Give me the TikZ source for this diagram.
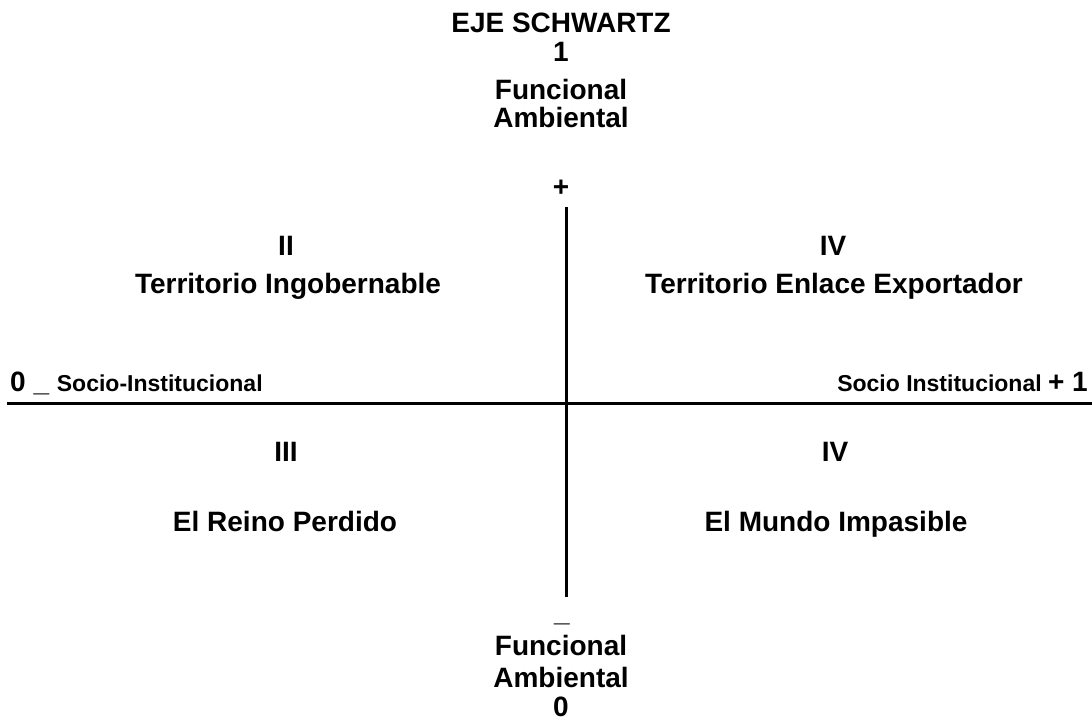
\documentclass[tikz,border=0pt]{standalone}
\usepackage{fontspec}
\setmainfont{Liberation Sans}
\newcommand{\bigfont}{\bfseries\fontsize{28}{32}\selectfont}
\newcommand{\smallfont}{\bfseries\fontsize{23}{27}\selectfont}
\begin{document}
\begin{tikzpicture}[x=1pt,y=-1pt,
  big/.style={font=\bigfont, inner sep=0pt, anchor=base},
  axis/.style={line width=3pt}]
\useasboundingbox (0,0) rectangle (1092,721);
% top block
\node[big] (title) at (561,32) {EJE SCHWARTZ};
\node[big] (one) at (561,61) {1};
\node[big] (f1) at (561,99) {Funcional};
\node[big] (a1) at (561,127) {Ambiental};
\node[big] (plus) at (561,196) {+};
% quadrant labels
\node[big] (q2n) at (286,255) {II};
\node[big] (q2) at (288,293) {Territorio Ingobernable};
\node[big] (q4n) at (833,255) {IV};
\node[big] (q4) at (834,293) {Territorio Enlace Exportador};
\node[big] (q3n) at (286,461) {III};
\node[big] (q3) at (285,531) {El Reino Perdido};
\node[big] (q1n) at (835,461) {IV};
\node[big] (q1) at (836,531) {El Mundo Impasible};
% axis end labels
\node[inner sep=0pt, anchor=base west] (left) at (10,391) {{\bigfont 0 \_ }{\smallfont Socio-Institucional}};
\node[inner sep=0pt, anchor=base east] (right) at (1088,391) {{\smallfont Socio Institucional }{\bigfont + 1}};
% bottom block
\node[big] (minus) at (562,621) {\_};
\node[big] (f2) at (561,655) {Funcional};
\node[big] (a2) at (561,687) {Ambiental};
\node[big] (zero) at (561,716) {0};
% axes
\coordinate (ht) at (566,207);
\coordinate (hb) at (566,597);
\coordinate (hl) at (7,403);
\coordinate (hr) at (1092,403);
\draw[axis] (ht) -- (hb);
\draw[axis] (hl) -- (hr);
\end{tikzpicture}
\end{document}
